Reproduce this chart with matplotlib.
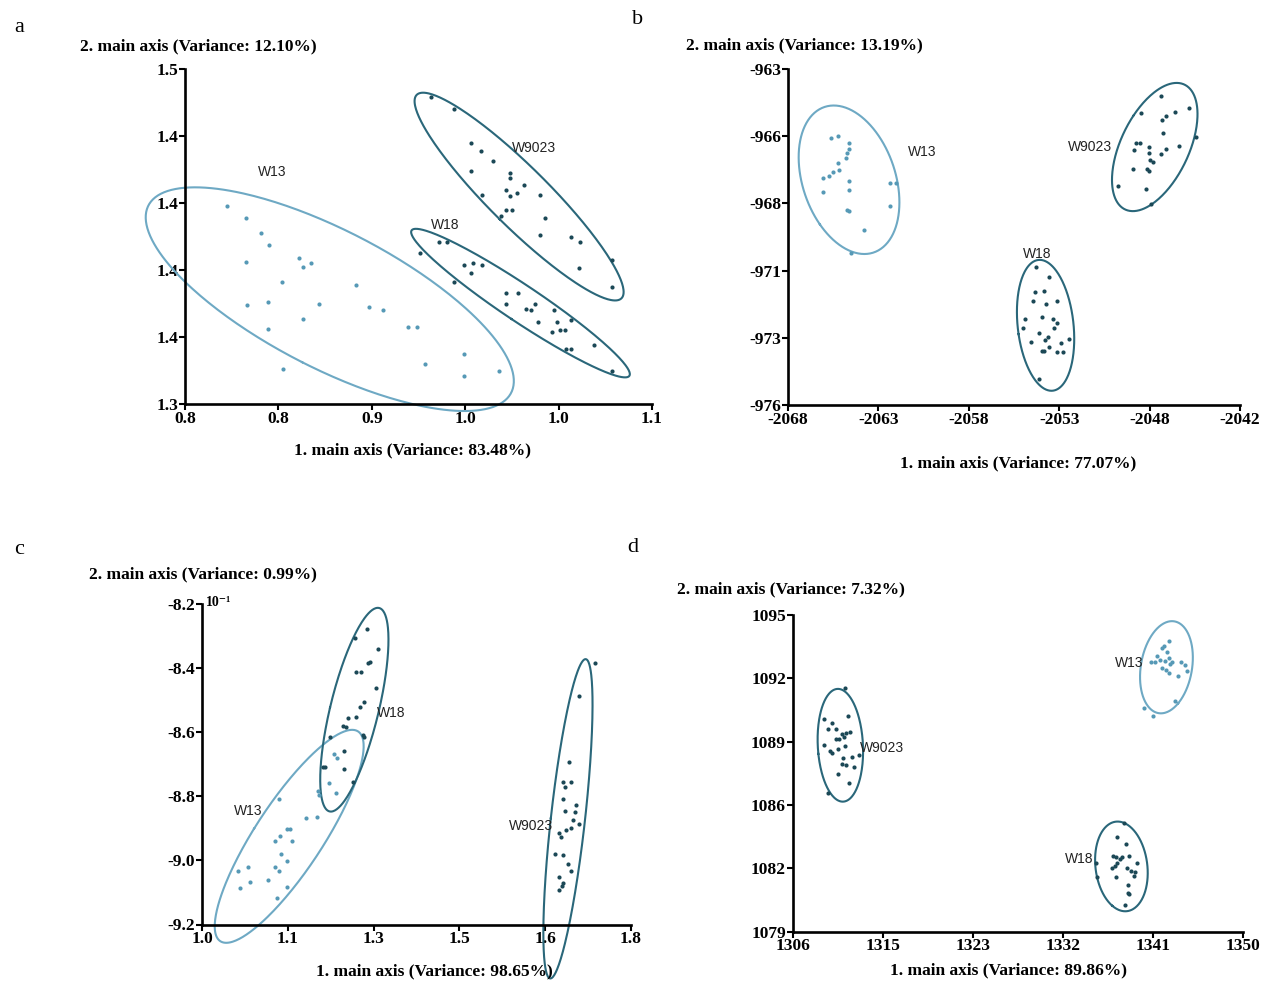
import numpy as np
import matplotlib
matplotlib.use('Agg')
import matplotlib.pyplot as plt

W, H = 1261, 983
fig = plt.figure(figsize=(W / 100, H / 100), dpi=100)

SERIF = ['Liberation Serif', 'DejaVu Serif']
SANS = ['Liberation Sans', 'DejaVu Sans']
LIGHT_LINE, LIGHT_PT = '#6ea9c4', '#5699b6'
DARK_LINE, DARK_PT = '#2a677a', '#1b4856'

# ---------------- panel a ----------------
a_w13_x = [0.827, 0.839, 0.849, 0.854, 0.839, 0.873, 0.876, 0.881, 0.862, 0.910, 0.840, 0.853,
           0.886, 0.918, 0.927, 0.876, 0.853, 0.863, 0.943, 0.949, 0.979, 0.954, 0.979, 1.002]
a_w13_y = [1.418, 1.411, 1.402, 1.395, 1.385, 1.387, 1.382, 1.384, 1.373, 1.371, 1.359, 1.361,
           1.360, 1.358, 1.356, 1.351, 1.345, 1.321, 1.346, 1.346, 1.330, 1.324, 1.317, 1.320]
a_w18_x = [0.963, 0.968, 0.951, 0.979, 0.985, 0.991, 0.984, 0.973, 1.006, 1.014, 1.006, 1.019, 1.022,
           1.025, 1.037, 1.027, 1.039, 1.048, 1.036, 1.041, 1.044, 1.045, 1.048, 1.063, 1.074]
a_w18_y = [1.397, 1.397, 1.390, 1.383, 1.384, 1.383, 1.378, 1.373, 1.366, 1.366, 1.360, 1.357, 1.356,
           1.360, 1.356, 1.349, 1.349, 1.350, 1.343, 1.344, 1.344, 1.333, 1.333, 1.335, 1.320]
a_w9023_x = [0.958, 0.973, 0.984, 0.990, 0.998, 0.984, 1.009, 1.009, 1.018, 1.006, 1.013, 1.009,
             0.991, 1.028, 1.006, 1.010, 1.003, 1.031, 1.028, 1.048, 1.054, 1.074, 1.053, 1.074]
a_w9023_y = [1.483, 1.476, 1.456, 1.451, 1.445, 1.439, 1.438, 1.435, 1.431, 1.428, 1.426, 1.424,
             1.425, 1.425, 1.416, 1.416, 1.412, 1.411, 1.401, 1.400, 1.397, 1.386, 1.381, 1.370]
a_xticks = ['0.8', '0.8', '0.9', '1.0', '1.0', '1.1']
a_yticks = ['1.5', '1.4', '1.4', '1.4', '1.4', '1.3']

# ---------------- panel b ----------------
b_w13_x = [-2065.54, -2065.11, -2064.51, -2064.47, -2064.61, -2064.64, -2065.13, -2065.07, -2065.39,
           -2065.64, -2066.01, -2064.51, -2062.16, -2061.79, -2065.96, -2064.51, -2062.13, -2064.61,
           -2064.51, -2063.61, -2064.36]
b_w13_y = [-965.66, -965.59, -965.85, -966.11, -966.26, -966.45, -966.62, -966.91, -967.00,
           -967.13, -967.23, -967.33, -967.40, -967.42, -967.75, -967.69, -968.30, -968.45,
           -968.48, -969.23, -970.13]
b_w18_x = [-2053.76, -2052.97, -2053.82, -2053.30, -2053.91, -2053.16, -2052.51, -2054.34, -2053.41,
           -2052.73, -2052.54, -2054.48, -2052.69, -2053.54, -2053.07, -2053.22, -2051.85, -2054.04,
           -2052.32, -2052.96, -2053.41, -2053.30, -2052.51, -2052.17, -2053.58]
b_w18_y = [-970.67, -971.03, -971.64, -971.58, -971.97, -972.10, -971.96, -972.66, -972.61,
           -972.68, -972.84, -973.03, -973.03, -973.22, -973.36, -973.48, -973.44, -973.57,
           -973.61, -973.74, -973.90, -973.92, -973.94, -973.95, -975.00]
b_w9023_x = [-2046.54, -2047.67, -2046.24, -2045.75, -2044.94, -2046.46, -2046.41, -2044.53, -2047.97,
             -2047.76, -2047.25, -2045.53, -2048.10, -2047.25, -2046.26, -2046.54, -2047.16, -2047.03,
             -2048.15, -2047.35, -2047.23, -2049.04, -2047.39, -2047.14]
b_w9023_y = [-964.04, -964.71, -964.81, -964.65, -964.50, -964.97, -965.49, -965.64, -965.85,
             -965.85, -966.01, -965.97, -966.15, -966.24, -966.09, -966.29, -966.52, -966.61,
             -966.87, -966.86, -966.95, -967.53, -967.63, -968.22]
b_xticks = ['-2068', '-2063', '-2058', '-2053', '-2048', '-2042']
b_yticks = ['-963', '-966', '-968', '-971', '-973', '-976']

# ---------------- panel c ----------------
c_w13_x = [1.144, 1.194, 1.215, 1.159, 1.164, 1.145, 1.137, 1.167, 1.147, 1.158, 1.067, 1.085,
           1.137, 1.144, 1.124, 1.090, 1.071, 1.159, 1.139, 1.246, 1.252, 1.236, 1.217, 1.219, 1.249]
c_w13_y = [-8.808, -8.868, -8.864, -8.901, -8.903, -8.923, -8.939, -8.939, -8.980, -9.001, -9.033,
           -9.020, -9.022, -9.033, -9.061, -9.067, -9.085, -9.084, -9.116, -8.668, -8.681, -8.758,
           -8.783, -8.796, -8.789]
c_w18_x = [1.307, 1.285, 1.329, 1.313, 1.310, 1.288, 1.296, 1.324, 1.302, 1.295, 1.288, 1.273, 1.263,
           1.269, 1.300, 1.302, 1.239, 1.265, 1.229, 1.226, 1.265, 1.282]
c_w18_y = [-8.279, -8.305, -8.340, -8.380, -8.383, -8.411, -8.413, -8.463, -8.505, -8.520, -8.552,
           -8.557, -8.581, -8.583, -8.609, -8.614, -8.616, -8.658, -8.708, -8.710, -8.715, -8.754]
c_w9023_x = [1.732, 1.703, 1.685, 1.674, 1.688, 1.677, 1.674, 1.697, 1.676, 1.696, 1.691, 1.703,
             1.678, 1.689, 1.666, 1.669, 1.658, 1.674, 1.682, 1.688, 1.666, 1.674, 1.672, 1.666]
c_w9023_y = [-8.383, -8.487, -8.694, -8.756, -8.756, -8.771, -8.808, -8.827, -8.846, -8.850, -8.874,
             -8.886, -8.905, -8.898, -8.915, -8.928, -8.981, -8.983, -9.011, -9.032, -9.051, -9.071,
             -9.080, -9.092]
c_xticks = ['1.0', '1.1', '1.3', '1.5', '1.6', '1.8']
c_yticks = ['-8.2', '-8.4', '-8.6', '-8.8', '-9.0', '-9.2']

# ---------------- panel d ----------------
d_w13_x = [1342.78, 1342.08, 1342.24, 1342.56, 1341.60, 1342.81, 1341.91, 1342.33, 1341.05, 1341.44,
           1343.03, 1342.91, 1343.89, 1344.31, 1342.08, 1342.46, 1342.72, 1344.54, 1343.67, 1343.35,
           1340.33, 1341.22]
d_w13_y = [1093.69, 1093.35, 1093.45, 1093.12, 1092.94, 1092.81, 1092.73, 1092.68, 1092.63, 1092.63,
           1092.64, 1092.52, 1092.64, 1092.47, 1092.31, 1092.22, 1092.05, 1092.19, 1091.92, 1090.67,
           1090.32, 1089.91]
d_w18_x = [1338.32, 1337.67, 1338.56, 1337.29, 1337.55, 1338.12, 1338.89, 1337.93, 1337.70, 1337.45,
           1337.22, 1339.68, 1338.63, 1339.04, 1339.46, 1337.61, 1339.30, 1335.69, 1335.60, 1338.79,
           1338.73, 1338.89, 1338.44]
d_w18_y = [1084.47, 1083.80, 1083.41, 1082.82, 1082.77, 1082.79, 1082.82, 1082.66, 1082.48, 1082.33,
           1082.20, 1082.45, 1082.20, 1082.08, 1082.03, 1081.78, 1081.81, 1081.78, 1082.45, 1081.36,
           1080.94, 1080.89, 1080.35]
d_w9023_x = [1311.04, 1309.06, 1309.86, 1311.39, 1309.47, 1310.18, 1310.76, 1311.14, 1311.55, 1310.98,
             1310.50, 1310.18, 1311.04, 1309.06, 1309.64, 1309.80, 1310.43, 1310.88, 1311.77, 1310.76,
             1311.20, 1311.93, 1310.43, 1311.45, 1309.47, 1312.41]
d_w9023_y = [1091.33, 1089.73, 1089.56, 1089.90, 1089.22, 1089.22, 1088.99, 1089.05, 1089.09, 1088.82,
             1088.72, 1088.73, 1088.40, 1088.43, 1088.14, 1088.04, 1088.23, 1087.76, 1087.81, 1087.47,
             1087.41, 1087.33, 1086.95, 1086.50, 1086.02, 1087.93]
d_xticks = ['1306', '1315', '1323', '1332', '1341', '1350']
d_yticks = ['1095', '1092', '1089', '1086', '1082', '1079']

# ellipse size (in standard deviations) per group, read from the drawn ellipses
ell_a = {'W13': 2.3, 'W18': 2.1, 'W9023': 2.25}
ell_b = {'W13': 2.45, 'W18': 2.45, 'W9023': 2.35}
ell_c = {'W13': 2.55, 'W18': 2.25, 'W9023': 2.85}
ell_d = {'W13': 2.45, 'W18': 2.45, 'W9023': 2.5}

panels = [
    dict(box=(185, 69, 652, 404), xlim=(0.8, 1.1), ylim=(1.3, 1.5), xt=a_xticks, yt=a_yticks, ell=ell_a,
         groups=[('W13', a_w13_x, a_w13_y, False, (0.856, 1.4385)),
                 ('W18', a_w18_x, a_w18_y, True, (0.967, 1.407)),
                 ('W9023', a_w9023_x, a_w9023_y, True, (1.024, 1.453))],
         letter=('a', 14, 28), title=('2. main axis (Variance: 12.10%)', 80, 46),
         xlabel=('1. main axis (Variance: 83.48%)', 413, 450)),
    dict(box=(788, 69, 1240, 405), xlim=(-2068, -2042), ylim=(-976, -963), xt=b_xticks, yt=b_yticks, ell=ell_b,
         groups=[('W13', b_w13_x, b_w13_y, False, (-2060.29, -966.21)),
                 ('W18', b_w18_x, b_w18_y, True, (-2053.69, -970.16)),
                 ('W9023', b_w9023_x, b_w9023_y, True, (-2050.61, -966.02))],
         letter=('b', 632, 20), title=('2. main axis (Variance: 13.19%)', 686, 45),
         xlabel=('1. main axis (Variance: 77.07%)', 1018, 463)),
    dict(box=(202, 604, 631, 924.5), xlim=(1.0, 1.8), ylim=(-9.2, -8.2), xt=c_xticks, yt=c_yticks, ell=ell_c,
         groups=[('W13', c_w13_x, c_w13_y, False, (1.087, -8.845)),
                 ('W18', c_w18_x, c_w18_y, True, (1.352, -8.541)),
                 ('W9023', c_w9023_x, c_w9023_y, True, (1.613, -8.893))],
         letter=('c', 14, 550), title=('2. main axis (Variance: 0.99%)', 89, 574),
         xlabel=('1. main axis (Variance: 98.65%)', 434, 971)),
    dict(box=(793, 615, 1243, 931.5), xlim=(1306, 1350), ylim=(1079, 1095), xt=d_xticks, yt=d_yticks, ell=ell_d,
         groups=[('W13', d_w13_x, d_w13_y, False, (1338.85, 1092.56)),
                 ('W18', d_w18_x, d_w18_y, True, (1333.94, 1082.66)),
                 ('W9023', d_w9023_x, d_w9023_y, True, (1314.71, 1088.26))],
         letter=('d', 627, 548), title=('2. main axis (Variance: 7.32%)', 677, 589),
         xlabel=('1. main axis (Variance: 89.86%)', 1008, 970)),
]


def conf_ellipse(x, y, n_std):
    x = np.asarray(x)
    y = np.asarray(y)
    vals, vecs = np.linalg.eigh(np.cov(x, y))
    t = np.linspace(0, 2 * np.pi, 300)
    circ = np.vstack([np.cos(t), np.sin(t)]) * np.sqrt(vals)[:, None] * n_std
    pts = vecs @ circ
    return pts[0] + x.mean(), pts[1] + y.mean()


for p in panels:
    x0, y0, x1, y1 = p['box']
    ax = fig.add_axes([x0 / W, 1 - y1 / H, (x1 - x0) / W, (y1 - y0) / H])
    ax.set_xlim(*p['xlim'])
    ax.set_ylim(*p['ylim'])
    ax.set_xticks(np.linspace(p['xlim'][0], p['xlim'][1], 6))
    ax.set_xticklabels(p['xt'])
    ax.set_yticks(np.linspace(p['ylim'][1], p['ylim'][0], 6))
    ax.set_yticklabels(p['yt'])
    for lab in ax.get_xticklabels() + ax.get_yticklabels():
        lab.set_fontfamily(SERIF)
        lab.set_fontweight('bold')
        lab.set_fontsize(12.5)
    ax.spines['top'].set_visible(False)
    ax.spines['right'].set_visible(False)
    ax.spines['left'].set_linewidth(1.9)
    ax.spines['bottom'].set_linewidth(1.9)
    ax.tick_params(direction='out', length=4, width=1.5, pad=1)
    ax.patch.set_alpha(0)

    for name, gx, gy, dark, (lx, ly) in p['groups']:
        line_c = DARK_LINE if dark else LIGHT_LINE
        pt_c = DARK_PT if dark else LIGHT_PT
        ex, ey = conf_ellipse(gx, gy, p['ell'][name])
        ax.plot(ex, ey, color=line_c, lw=1.5, clip_on=False, zorder=2)
        ax.scatter(gx, gy, s=9, color=pt_c, marker='o', linewidths=0, clip_on=False, zorder=3)
        ax.text(lx, ly, name, fontfamily=SANS, fontsize=10, color='#222222',
                ha='center', va='center', zorder=4)

    letter, lxp, lyp = p['letter']
    fig.text(lxp / W, 1 - lyp / H, letter, fontfamily=SERIF, fontsize=16, ha='left', va='center')
    title, txp, typ = p['title']
    fig.text(txp / W, 1 - typ / H, title, fontfamily=SERIF, fontweight='bold', fontsize=12.5,
             ha='left', va='center')
    xlabel, xxp, xyp = p['xlabel']
    fig.text(xxp / W, 1 - xyp / H, xlabel, fontfamily=SERIF, fontweight='bold', fontsize=12.5,
             ha='center', va='center')

# exponent marker on panel c
fig.text(206 / W, 1 - 602 / H, '10\u207b\u00b9', fontfamily=SERIF, fontweight='bold',
         fontsize=10, ha='left', va='center')

fig.savefig('out.png', dpi=100)
